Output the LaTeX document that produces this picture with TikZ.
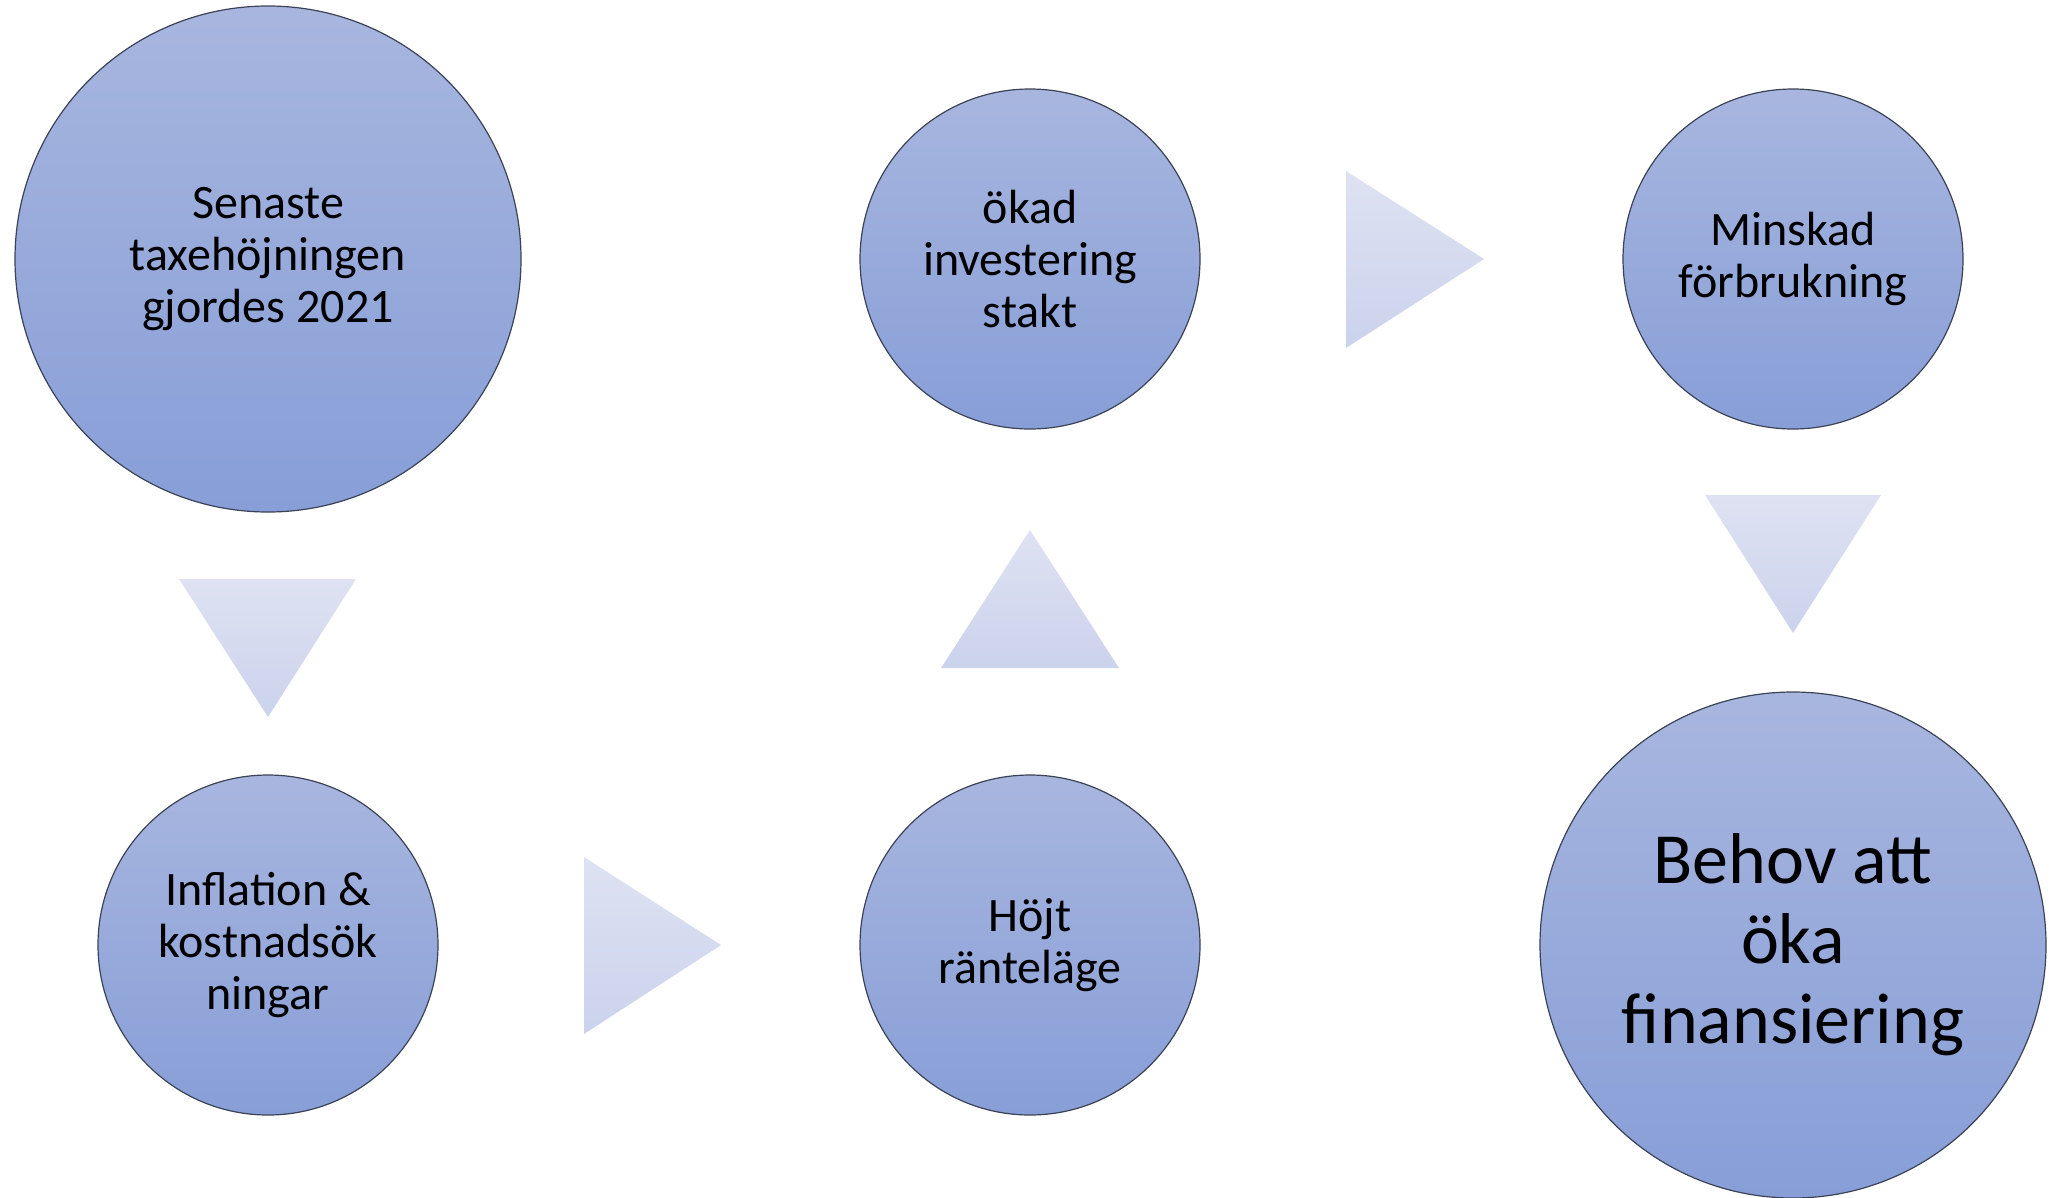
\documentclass[tikz,border=0pt]{standalone}
\usepackage{fontspec}
\setmainfont{Carlito}
\definecolor{ctop}{RGB}{168,182,223}
\definecolor{cbot}{RGB}{135,158,215}
\definecolor{ttop}{RGB}{222,226,242}
\definecolor{tbot}{RGB}{203,210,236}
\definecolor{cline}{RGB}{60,66,85}
\begin{document}
\begin{tikzpicture}[x=1pt,y=-1pt,
  bub/.style={circle, draw=cline, line width=1.2pt, top color=ctop, bottom color=cbot,
    align=center, inner sep=0pt, font=\fontsize{48}{52}\selectfont},
  small/.style={bub, minimum size=340pt},
  big/.style={bub, minimum size=506pt},
  tri/.style={top color=ttop, bottom color=tbot, draw=none}]
\useasboundingbox (0,0) rectangle (2049,1197);
\node[big]   (c1) at (268,259)  {Senaste\\taxehöjningen\\gjordes 2021};
\node[small] (c2) at (1030,259) {ökad\\investering\\stakt};
\node[small] (c3) at (1793,259) {Minskad\\förbrukning};
\node[small] (c4) at (268,945)  {Inflation \&\\kostnadsök\\ningar};
\node[small] (c5) at (1030,945) {Höjt\\ränteläge};
\node[big, font=\fontsize{72}{80}\selectfont] (c6) at (1793,945) {Behov att\\öka\\finansiering};
% arrow shapes
\path[tri] (179,579) -- (356,579) -- (268,717) -- cycle;
\path[tri] (584,857) -- (584,1034) -- (721,945) -- cycle;
\path[tri] (941,668) -- (1119,668) -- (1030,530) -- cycle;
\path[tri] (1346,171) -- (1346,348) -- (1484,259) -- cycle;
\path[tri] (1705,495) -- (1881,495) -- (1793,633) -- cycle;
\end{tikzpicture}
\end{document}
